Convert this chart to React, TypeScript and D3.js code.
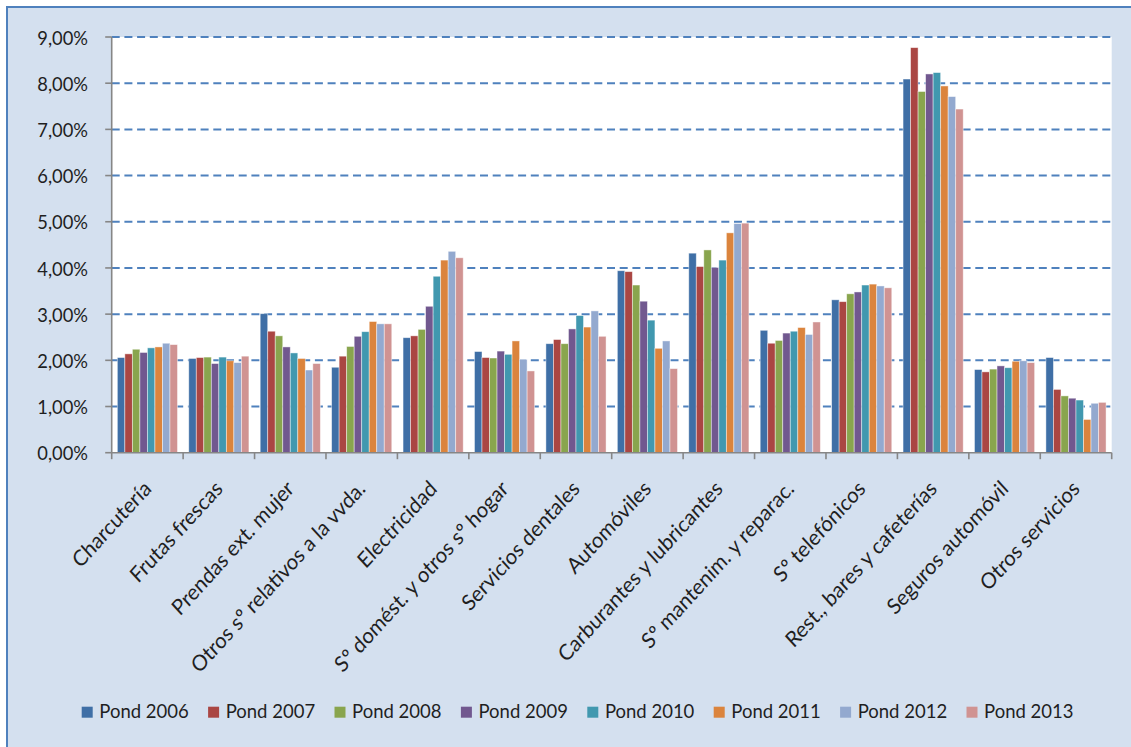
import React from "react";
import * as d3 from "d3";

const categories = [
  "Charcutería",
  "Frutas frescas",
  "Prendas ext. mujer",
  "Otros sº relativos a la vvda.",
  "Electricidad",
  "Sº domést. y otros sº hogar",
  "Servicios dentales",
  "Automóviles",
  "Carburantes y lubricantes",
  "Sº mantenim. y reparac.",
  "Sº telefónicos",
  "Rest., bares y cafeterías",
  "Seguros automóvil",
  "Otros servicios",
];

const seriesNames = [
  "Pond 2006",
  "Pond 2007",
  "Pond 2008",
  "Pond 2009",
  "Pond 2010",
  "Pond 2011",
  "Pond 2012",
  "Pond 2013",
];

const p2006 = [2.06, 2.04, 3.01, 1.85, 2.49, 2.19, 2.36, 3.94, 4.32, 2.65, 3.31, 8.09, 1.8, 2.06];
const p2007 = [2.14, 2.06, 2.63, 2.09, 2.53, 2.06, 2.45, 3.92, 4.03, 2.37, 3.27, 8.77, 1.75, 1.37];
const p2008 = [2.24, 2.07, 2.53, 2.3, 2.67, 2.05, 2.36, 3.63, 4.39, 2.43, 3.44, 7.82, 1.81, 1.23];
const p2009 = [2.17, 1.93, 2.29, 2.52, 3.17, 2.2, 2.68, 3.28, 4.01, 2.59, 3.48, 8.2, 1.88, 1.18];
const p2010 = [2.27, 2.07, 2.16, 2.62, 3.82, 2.13, 2.97, 2.87, 4.17, 2.63, 3.63, 8.23, 1.84, 1.14];
const p2011 = [2.29, 1.99, 2.04, 2.84, 4.17, 2.42, 2.72, 2.26, 4.76, 2.71, 3.65, 7.94, 1.98, 0.72];
const p2012 = [2.37, 1.95, 1.79, 2.79, 4.36, 2.02, 3.07, 2.42, 4.96, 2.56, 3.61, 7.71, 1.99, 1.07];
const p2013 = [2.34, 2.09, 1.93, 2.79, 4.22, 1.77, 2.52, 1.82, 4.97, 2.83, 3.57, 7.44, 1.95, 1.09];

const seriesValues = [p2006, p2007, p2008, p2009, p2010, p2011, p2012, p2013];

const colors = ["#3F6FA6", "#AA4643", "#89A54E", "#71588F", "#4198AF", "#DB843D", "#93A9CF", "#D09392"];

const yTicks = [0, 1, 2, 3, 4, 5, 6, 7, 8, 9];

const W = 1131;
const H = 747;
const plotLeft = 111.7;
const plotRight = 1111.7;
const plotTop = 37;
const plotBottom = 452.7;
const FONT = "Lato, 'Open Sans', sans-serif";

export default function App() {
  const x0 = d3.scaleBand<string>().domain(categories).range([plotLeft, plotRight]).paddingInner(0).paddingOuter(0);
  const bw = x0.bandwidth() / 9.5;
  const x1 = d3
    .scaleBand<string>()
    .domain(seriesNames)
    .range([bw * 0.75, x0.bandwidth() - bw * 0.75])
    .padding(0);
  const y = d3.scaleLinear().domain([0, 9]).range([plotBottom, plotTop]);
  const fmt = (v: number) => v.toFixed(2).replace(".", ",") + "%";

  const boundaries = d3.range(categories.length + 1).map((i) => plotLeft + i * x0.bandwidth());

  return (
    <svg
      width={W}
      height={H}
      style={{ position: "absolute", left: 0, top: 0, fontFamily: FONT }}
    >
      <rect x={0} y={0} width={W} height={H} fill="#ffffff" />
      <rect x={7} y={7} width={W + 10} height={H + 10} fill="#D4E0EF" stroke="#4F81BD" strokeWidth={2} />
      <rect x={plotLeft} y={plotTop} width={plotRight - plotLeft} height={plotBottom - plotTop} fill="#ffffff" />

      {yTicks
        .filter((t) => t > 0)
        .map((t) => (
          <line
            key={"g" + t}
            x1={plotLeft}
            x2={plotRight}
            y1={y(t)}
            y2={y(t)}
            stroke="#4F81BD"
            strokeWidth={2}
            strokeDasharray="8,4.7"
          />
        ))}

      {categories.map((c, ci) => (
        <g key={c} transform={`translate(${x0(c)},0)`}>
          {seriesNames.map((s, si) => {
            const v = seriesValues[si][ci];
            return (
              <rect
                key={s}
                x={x1(s)!}
                y={y(v)}
                width={x1.bandwidth()}
                height={y(0) - y(v)}
                fill={colors[si]}
                stroke="rgba(255,255,255,0.55)"
                strokeWidth={0.8}
              />
            );
          })}
        </g>
      ))}

      {/* y axis */}
      <line x1={plotLeft} x2={plotLeft} y1={plotTop} y2={plotBottom} stroke="#868686" strokeWidth={1.6} />
      {yTicks.map((t) => (
        <g key={"yt" + t}>
          <line x1={plotLeft - 6.5} x2={plotLeft} y1={y(t)} y2={y(t)} stroke="#868686" strokeWidth={1.6} />
          <text
            transform={`translate(88,${y(t)}) scale(0.94,1)`}
            textAnchor="end"
            dominantBaseline="central"
            fontSize={19.5}
            fill="#1f1f1f"
          >
            {fmt(t)}
          </text>
        </g>
      ))}

      {/* x axis */}
      <line x1={plotLeft} x2={plotRight} y1={plotBottom} y2={plotBottom} stroke="#868686" strokeWidth={1.6} />
      {boundaries.map((bx, i) => (
        <line key={"xt" + i} x1={bx} x2={bx} y1={plotBottom} y2={plotBottom + 6.5} stroke="#868686" strokeWidth={1.6} />
      ))}
      {categories.map((c) => {
        const cx = x0(c)! + x0.bandwidth() / 2;
        return (
          <text
            key={"l" + c}
            transform={`translate(${cx + 5},490) scale(1,1.1) rotate(-45)`}
            textAnchor="end"
            fontSize={20}
            fill="#1f1f1f"
          >
            {c}
          </text>
        );
      })}

      {/* legend */}
      {seriesNames.map((s, i) => {
        const lx = 81.7 + i * 126.4;
        return (
          <g key={"lg" + s}>
            <rect x={lx} y={706.7} width={11} height={11} fill={colors[i]} />
            <text x={lx + 17.6} y={717.7} fontSize={18.5} fill="#1f1f1f">
              {s}
            </text>
          </g>
        );
      })}
    </svg>
  );
}
